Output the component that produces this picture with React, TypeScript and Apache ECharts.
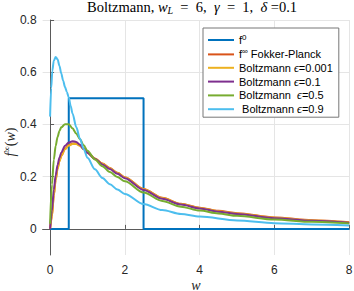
import React, { useEffect, useRef } from 'react';
import * as echarts from 'echarts';

// ---- data ----
const xTicks = [0, 2, 4, 6, 8];
const yTicks = [0, 0.2, 0.4, 0.6, 0.8];

const seriesNames = ['f0', 'fp', 'e001', 'e01', 'e05', 'e09'];
const seriesColors = ['#0072BD', '#D95319', '#EDB120', '#7E2F8E', '#77AC30', '#4DBEEE'];

const f0W = [0, 0.5, 0.5, 2.5, 2.5, 8];
const f0V = [0, 0, 0.5, 0.5, 0, 0];

const wGrid = [0, 0.05, 0.1, 0.15, 0.2, 0.25, 0.3, 0.4, 0.5, 0.6, 0.7, 0.8, 0.9, 1.0, 1.2, 1.4, 1.6, 1.8, 2.0, 2.5, 3.0, 3.5, 4.0, 4.5, 5.0, 6.0, 7.0, 8.0];
const fpV = [0, 0.05, 0.13, 0.19, 0.232, 0.26, 0.281, 0.307, 0.321, 0.327, 0.327, 0.319, 0.306, 0.292, 0.27, 0.25, 0.233, 0.215, 0.198, 0.153, 0.119, 0.096, 0.081, 0.069, 0.06, 0.044, 0.033, 0.025];
const e001V = [0, 0.048, 0.127, 0.187, 0.229, 0.258, 0.279, 0.305, 0.319, 0.325, 0.325, 0.318, 0.305, 0.291, 0.269, 0.249, 0.232, 0.214, 0.197, 0.152, 0.118, 0.095, 0.08, 0.068, 0.059, 0.043, 0.032, 0.024];
const e01V = [0, 0.07, 0.15, 0.205, 0.245, 0.272, 0.293, 0.318, 0.331, 0.336, 0.333, 0.322, 0.306, 0.292, 0.268, 0.247, 0.229, 0.211, 0.194, 0.149, 0.115, 0.093, 0.078, 0.066, 0.057, 0.041, 0.031, 0.023];
const e05V = [0.02, 0.17, 0.265, 0.318, 0.352, 0.375, 0.389, 0.401, 0.401, 0.385, 0.365, 0.343, 0.32, 0.299, 0.266, 0.24, 0.218, 0.199, 0.182, 0.139, 0.107, 0.085, 0.07, 0.059, 0.05, 0.036, 0.027, 0.021];

const w09 = [0, 0.03, 0.06, 0.1, 0.15, 0.2, 0.25, 0.3, 0.35, 0.4, 0.45, 0.5, 0.55, 0.6, 0.7, 0.8, 0.9, 1.0, 1.2, 1.4, 1.6, 1.8, 2.0, 2.5, 3.0, 3.5, 4.0, 5.0, 6.0, 7.0, 8.0];
const e09V = [0.43, 0.54, 0.605, 0.645, 0.658, 0.65, 0.625, 0.595, 0.567, 0.543, 0.524, 0.503, 0.472, 0.442, 0.39, 0.345, 0.305, 0.272, 0.228, 0.195, 0.171, 0.151, 0.134, 0.095, 0.072, 0.057, 0.047, 0.032, 0.022, 0.017, 0.013];

const legendLabels: Record<string, string> = {
  f0: '{t|f}{sup|0}',
  fp: '{t|f}{sup|∞}{t| Fokker-Planck}',
  e001: '{t|Boltzmann }{e|ϵ}{t|=0.001}',
  e01: '{t|Boltzmann }{e|ϵ}{t|=0.1}',
  e05: '{t|Boltzmann  }{e|ϵ}{t|=0.5}',
  e09: '{t| Boltzmann }{e|ϵ}{t|=0.9}',
};

const titleText =
  '{r|Boltzmann, }{i|w}{sub|L}{r|\u2002=\u20026,\u2002}{i|γ}{r|\u2002=\u20021,\u2002}{i|δ}{r| =0.1}';
const yLabelText = '{i|f}{sup|∞}{r|(}{i|w}{r|)}';
const xLabelText = 'w';

const SANS = '"Liberation Sans", Arial, Helvetica, sans-serif';
const SERIF = '"Liberation Serif", "Times New Roman", serif';

function pairs(xs: number[], ys: number[]) {
  return xs.map((x, i) => [x, ys[i]]);
}

export default function App() {
  const ref = useRef<HTMLDivElement>(null);
  useEffect(() => {
    if (!ref.current) return;
    const chart = echarts.init(ref.current, undefined, { renderer: 'svg' });
    const curveData = [
      pairs(f0W, f0V),
      pairs(wGrid, fpV),
      pairs(wGrid, e001V),
      pairs(wGrid, e01V),
      pairs(wGrid, e05V),
      pairs(w09, e09V),
    ];
    const axisColor = '#5a5a5a';
    const option: any = {
      animation: false,
      backgroundColor: '#ffffff',
      grid: {
        left: 42.6,
        right: 4.8,
        top: 20,
        bottom: 36,
        containLabel: false,
        outerBoundsMode: 'none',
      },
      graphic: [
        {
          type: 'text',
          x: 87,
          y: 7,
          style: {
            text: titleText,
            align: 'left',
            verticalAlign: 'middle',
            fill: '#000',
            rich: {
              r: { fontFamily: SERIF, fontSize: 14.5, fontWeight: 'normal', fill: '#000', lineHeight: 16 },
              i: { fontFamily: SERIF, fontSize: 14.5, fontWeight: 'normal', fontStyle: 'italic', fill: '#000', lineHeight: 16 },
              sub: { fontFamily: SERIF, fontSize: 10, fontWeight: 'normal', fontStyle: 'italic', fill: '#000', verticalAlign: 'bottom', lineHeight: 10 },
            },
          },
        },
        {
          type: 'text',
          x: 10,
          y: 142,
          rotation: Math.PI / 2,
          style: {
            text: yLabelText,
            align: 'center',
            verticalAlign: 'middle',
            fill: '#262626',
            rich: {
              i: { fontFamily: SERIF, fontStyle: 'italic', fontSize: 14, fill: '#262626', lineHeight: 16 },
              r: { fontFamily: SERIF, fontSize: 14, fill: '#262626', lineHeight: 16 },
              sup: { fontFamily: SERIF, fontSize: 9, fill: '#262626', verticalAlign: 'top', lineHeight: 9 },
            },
          },
        },
        {
          type: 'text',
          x: 196,
          y: 285,
          style: {
            text: xLabelText,
            align: 'center',
            verticalAlign: 'middle',
            fill: '#262626',
            fontFamily: SERIF,
            fontStyle: 'italic',
            fontSize: 14,
            lineHeight: 11,
          },
        },
      ],
      legend: {
        orient: 'vertical',
        left: 203,
        top: 28,
        padding: [5, 6, 2, 4],
        itemWidth: 26,
        itemHeight: 14,
        itemGap: 1.8,
        align: 'left',
        borderColor: '#777777',
        borderWidth: 1,
        borderRadius: 0,
        backgroundColor: '#ffffff',
        itemStyle: { opacity: 0 },
        data: seriesNames,
        formatter: (name: string) => legendLabels[name],
        textStyle: {
          fontFamily: SANS,
          fontSize: 11,
          color: '#000',
          rich: {
            t: { fontFamily: SANS, fontSize: 11, color: '#000', lineHeight: 14 },
            sup: { fontFamily: SANS, fontSize: 8, color: '#000', verticalAlign: 'top', lineHeight: 8 },
            e: { fontFamily: SERIF, fontSize: 12, fontStyle: 'italic', color: '#000', lineHeight: 14 },
          },
        },
      },
      xAxis: {
        type: 'value',
        min: -0.2,
        max: 8,
        axisLine: { show: true, lineStyle: { color: axisColor, width: 1 } },
        axisTick: { show: true, inside: true, length: 4, customValues: xTicks, lineStyle: { color: axisColor } },
        axisLabel: { customValues: xTicks, fontFamily: SANS, fontSize: 12, color: '#262626', margin: 9, lineHeight: 12 },
        splitLine: { show: true, lineStyle: { color: '#e5e5e5', width: 1 } },
      },
      yAxis: {
        type: 'value',
        min: -0.1,
        max: 0.8,
        axisLine: { show: true, lineStyle: { color: axisColor, width: 1 } },
        axisTick: { show: true, inside: true, length: 4, customValues: yTicks, lineStyle: { color: axisColor } },
        axisLabel: {
          customValues: yTicks,
          fontFamily: SANS,
          fontSize: 12,
          color: '#262626',
          margin: 6,
          formatter: (v: number) => String(Math.round(v * 10) / 10),
        },
        splitLine: { show: true, lineStyle: { color: '#e5e5e5', width: 1 } },
      },
      series: seriesNames.map((name, i) => ({
        name,
        type: 'line',
        data: curveData[i],
        symbol: 'none',
        showSymbol: false,
        smooth: i === 0 ? false : 0.3,
        smoothMonotone: i === 0 ? undefined : 'x',
        color: seriesColors[i],
        lineStyle: { color: seriesColors[i], width: 2 },
        z: 2 + i,
      })),
    };
    chart.setOption(option);
    return () => chart.dispose();
  }, []);
  return (
    <div
      ref={ref}
      style={{ position: 'absolute', left: 0, top: 0, width: 354, height: 291 }}
    />
  );
}
